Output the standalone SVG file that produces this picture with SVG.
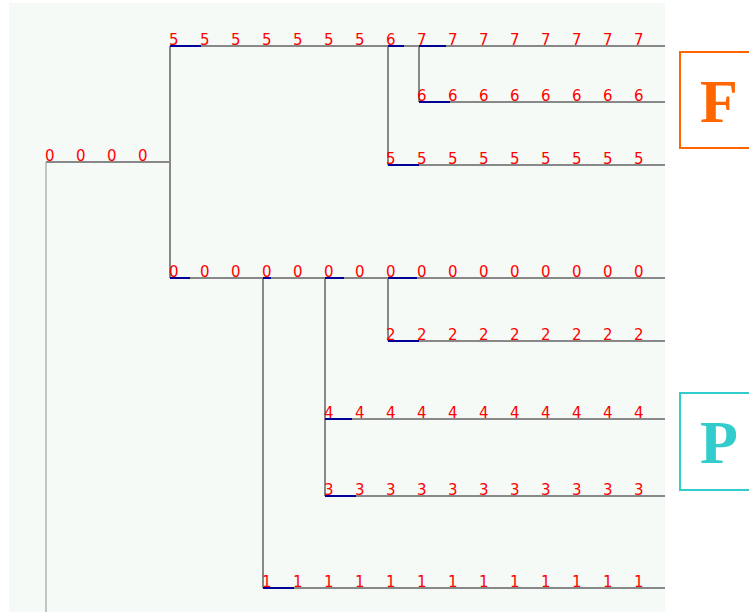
<svg xmlns="http://www.w3.org/2000/svg" width="749" height="612" viewBox="0 0 749 612">
  <style>
    .edge { stroke: #888888; stroke-width: 2; fill: none; }
    .root { stroke: #c4c4c4; stroke-width: 2; fill: none; }
    .hl { stroke: #000099; stroke-width: 2; fill: none; }
    .lbl { fill: #ff0000; font-family: "DejaVu Sans", Verdana, sans-serif; font-size: 15px; }
    .tag { font-family: "Liberation Serif", "Times New Roman", serif; font-weight: bold; font-size: 62px; text-anchor: middle; }
  </style>
  <rect x="0" y="0" width="749" height="612" fill="#ffffff"/>
  <rect x="9" y="3" width="656" height="609" fill="#f6faf7"/>

  <g id="connectors">
    <path class="root" d="M46 162 V612"/>
    <path class="edge" d="M46 162 H170"/>
    <path class="edge" d="M170 46 V278"/>
    <path class="edge" d="M170 46 H665"/>
    <path class="edge" d="M388 46 V165"/>
    <path class="edge" d="M419 46 V102"/>
    <path class="edge" d="M419 102 H665"/>
    <path class="edge" d="M388 165 H665"/>
    <path class="edge" d="M170 278 H665"/>
    <path class="edge" d="M263 278 V588"/>
    <path class="edge" d="M325 278 V496"/>
    <path class="edge" d="M388 278 V341"/>
    <path class="edge" d="M388 341 H665"/>
    <path class="edge" d="M325 419 H665"/>
    <path class="edge" d="M325 496 H665"/>
    <path class="edge" d="M263 588 H665"/>
    <!-- highlighted first segments -->
    <path class="hl" d="M170 46 H201"/>
    <path class="hl" d="M388 46 H404"/>
    <path class="hl" d="M419 46 H446"/>
    <path class="hl" d="M419 102 H450"/>
    <path class="hl" d="M388 165 H419"/>
    <path class="hl" d="M170 278 H190"/>
    <path class="hl" d="M263 278 H271"/>
    <path class="hl" d="M325 278 H344"/>
    <path class="hl" d="M388 278 H417"/>
    <path class="hl" d="M388 341 H419"/>
    <path class="hl" d="M325 419 H352"/>
    <path class="hl" d="M325 496 H356"/>
    <path class="hl" d="M263 588 H294"/>
  </g>

  <g id="node-root" class="lbl">
    <text x="45" y="161">0</text><text x="76" y="161">0</text><text x="107" y="161">0</text><text x="138" y="161">0</text>
  </g>

  <g id="node-row7" class="lbl">
    <text x="169" y="45">5</text><text x="200" y="45">5</text><text x="231" y="45">5</text><text x="262" y="45">5</text>
    <text x="293" y="45">5</text><text x="324" y="45">5</text><text x="355" y="45">5</text><text x="386" y="45">6</text>
    <text x="417" y="45">7</text><text x="448" y="45">7</text><text x="479" y="45">7</text><text x="510" y="45">7</text>
    <text x="541" y="45">7</text><text x="572" y="45">7</text><text x="603" y="45">7</text><text x="634" y="45">7</text>
  </g>

  <g id="node-row6" class="lbl">
    <text x="417" y="101">6</text><text x="448" y="101">6</text><text x="479" y="101">6</text><text x="510" y="101">6</text>
    <text x="541" y="101">6</text><text x="572" y="101">6</text><text x="603" y="101">6</text><text x="634" y="101">6</text>
  </g>

  <g id="node-row5" class="lbl">
    <text x="386" y="164">5</text><text x="417" y="164">5</text><text x="448" y="164">5</text><text x="479" y="164">5</text>
    <text x="510" y="164">5</text><text x="541" y="164">5</text><text x="572" y="164">5</text><text x="603" y="164">5</text>
    <text x="634" y="164">5</text>
  </g>

  <g id="node-row0" class="lbl">
    <text x="169" y="277">0</text><text x="200" y="277">0</text><text x="231" y="277">0</text><text x="262" y="277">0</text>
    <text x="293" y="277">0</text><text x="324" y="277">0</text><text x="355" y="277">0</text><text x="386" y="277">0</text>
    <text x="417" y="277">0</text><text x="448" y="277">0</text><text x="479" y="277">0</text><text x="510" y="277">0</text>
    <text x="541" y="277">0</text><text x="572" y="277">0</text><text x="603" y="277">0</text><text x="634" y="277">0</text>
  </g>

  <g id="node-row2" class="lbl">
    <text x="386" y="340">2</text><text x="417" y="340">2</text><text x="448" y="340">2</text><text x="479" y="340">2</text>
    <text x="510" y="340">2</text><text x="541" y="340">2</text><text x="572" y="340">2</text><text x="603" y="340">2</text>
    <text x="634" y="340">2</text>
  </g>

  <g id="node-row4" class="lbl">
    <text x="324" y="418">4</text><text x="355" y="418">4</text><text x="386" y="418">4</text><text x="417" y="418">4</text>
    <text x="448" y="418">4</text><text x="479" y="418">4</text><text x="510" y="418">4</text><text x="541" y="418">4</text>
    <text x="572" y="418">4</text><text x="603" y="418">4</text><text x="634" y="418">4</text>
  </g>

  <g id="node-row3" class="lbl">
    <text x="324" y="495">3</text><text x="355" y="495">3</text><text x="386" y="495">3</text><text x="417" y="495">3</text>
    <text x="448" y="495">3</text><text x="479" y="495">3</text><text x="510" y="495">3</text><text x="541" y="495">3</text>
    <text x="572" y="495">3</text><text x="603" y="495">3</text><text x="634" y="495">3</text>
  </g>

  <g id="node-row1" class="lbl">
    <text x="262" y="587">1</text><text x="293" y="587">1</text><text x="324" y="587">1</text><text x="355" y="587">1</text>
    <text x="386" y="587">1</text><text x="417" y="587">1</text><text x="448" y="587">1</text><text x="479" y="587">1</text>
    <text x="510" y="587">1</text><text x="541" y="587">1</text><text x="572" y="587">1</text><text x="603" y="587">1</text>
    <text x="634" y="587">1</text>
  </g>

  <g id="tag-F">
    <rect x="680" y="52" width="80" height="96" fill="#ffffff" stroke="#ff6600" stroke-width="2"/>
    <text class="tag" x="719" y="122" fill="#ff6600">F</text>
  </g>

  <g id="tag-P">
    <rect x="680" y="393" width="80" height="97" fill="#ffffff" stroke="#33cccc" stroke-width="2"/>
    <text class="tag" x="719" y="463" fill="#33cccc">P</text>
  </g>
</svg>
